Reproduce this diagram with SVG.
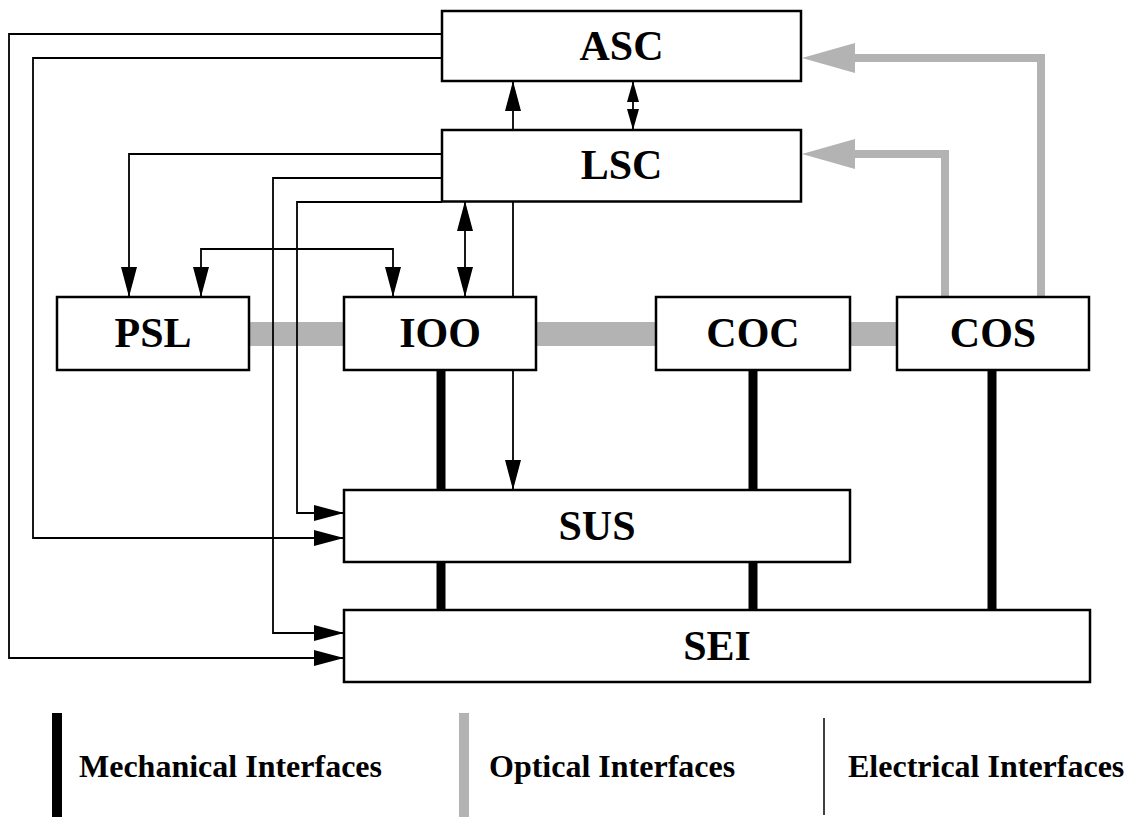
<svg xmlns="http://www.w3.org/2000/svg" width="1128" height="817" viewBox="0 0 1128 817">
  <style>
    .box { fill: #ffffff; stroke: #000000; stroke-width: 2.5; }
    .lbl { font-family: "Liberation Serif", "Times New Roman", serif; font-weight: bold; font-size: 42px; text-anchor: middle; fill: #000000; }
    .leg { font-family: "Liberation Serif", "Times New Roman", serif; font-weight: bold; font-size: 32px; fill: #000000; }
    .elec { fill: none; stroke: #000000; stroke-width: 1.8; }
    .opt { fill: none; stroke: #b3b3b3; stroke-width: 8; }
    .mech { fill: none; stroke: #000000; stroke-width: 9; }
  </style>
  <defs>
    <marker id="ah" markerUnits="userSpaceOnUse" markerWidth="30" markerHeight="16" refX="30" refY="8" orient="auto-start-reverse">
      <path d="M0,0 L30,8 L0,16 z" fill="#000000"/>
    </marker>
    <marker id="ahs" markerUnits="userSpaceOnUse" markerWidth="21" markerHeight="12" refX="21" refY="6" orient="auto-start-reverse">
      <path d="M0,0 L21,6 L0,12 z" fill="#000000"/>
    </marker>
    <marker id="ahg" markerUnits="userSpaceOnUse" markerWidth="53" markerHeight="30" refX="0" refY="15" orient="auto">
      <path d="M0,0 L53,15 L0,30 z" fill="#b3b3b3"/>
    </marker>
  </defs>

  <g id="connectors">
    <!-- optical bar -->
    <line class="opt" x1="249" y1="334" x2="897" y2="334" style="stroke-width:24"/>
    <!-- optical COS -> ASC, COS -> LSC -->
    <polyline class="opt" points="1041,297 1041,58 855,58" marker-end="url(#ahg)"/>
    <polyline class="opt" points="945,297 945,154 855,154" marker-end="url(#ahg)"/>
    <!-- mechanical -->
    <line class="mech" x1="441" y1="370" x2="441" y2="490"/>
    <line class="mech" x1="441" y1="562" x2="441" y2="610"/>
    <line class="mech" x1="753" y1="370" x2="753" y2="490"/>
    <line class="mech" x1="753" y1="562" x2="753" y2="610"/>
    <line class="mech" x1="992" y1="370" x2="992" y2="610"/>
    <!-- electrical -->
    <polyline class="elec" points="442,34 9,34 9,658 344,658" marker-end="url(#ah)"/>
    <polyline class="elec" points="442,58 33,58 33,538 344,538" marker-end="url(#ah)"/>
    <polyline class="elec" points="442,154 129,154 129,297" marker-end="url(#ah)"/>
    <polyline class="elec" points="442,178 273,178 273,633 344,633" marker-end="url(#ah)"/>
    <polyline class="elec" points="442,202 297,202 297,513 344,513" marker-end="url(#ah)"/>
    <polyline class="elec" points="201,297 201,249 393,249 393,297" marker-start="url(#ah)" marker-end="url(#ah)"/>
    <line class="elec" x1="465" y1="201" x2="465" y2="297" marker-start="url(#ah)" marker-end="url(#ah)"/>
    <line class="elec" x1="513" y1="297" x2="513" y2="81" marker-end="url(#ah)"/>
    <line class="elec" x1="513" y1="370" x2="513" y2="490" marker-end="url(#ah)"/>
    <line class="elec" x1="633" y1="81" x2="633" y2="130" marker-start="url(#ahs)" marker-end="url(#ahs)"/>
  </g>

  <g id="ASC"><rect class="box" x="442" y="11" width="359" height="70"/><text class="lbl" x="621.5" y="59.5">ASC</text></g>
  <g id="LSC"><rect class="box" x="442" y="130" width="359" height="71.5"/><text class="lbl" x="621.5" y="179">LSC</text></g>
  <g id="PSL"><rect class="box" x="57" y="297" width="192" height="73"/><text class="lbl" x="153" y="347">PSL</text></g>
  <g id="IOO"><rect class="box" x="344" y="297" width="192" height="73"/><text class="lbl" x="440" y="347">IOO</text></g>
  <g id="COC"><rect class="box" x="656" y="297" width="194" height="73"/><text class="lbl" x="753" y="347">COC</text></g>
  <g id="COS"><rect class="box" x="897" y="297" width="192" height="73"/><text class="lbl" x="993" y="347">COS</text></g>
  <g id="SUS"><rect class="box" x="344" y="490" width="506" height="72"/><text class="lbl" x="597" y="540">SUS</text></g>
  <g id="SEI"><rect class="box" x="344" y="610" width="746" height="72"/><text class="lbl" x="717" y="660">SEI</text></g>

  <g id="legend">
    <rect x="52" y="713" width="10" height="104" fill="#000000"/>
    <text class="leg" x="79" y="777">Mechanical Interfaces</text>
    <rect x="459" y="713" width="10" height="104" fill="#b3b3b3"/>
    <text class="leg" x="489" y="777">Optical Interfaces</text>
    <line x1="824" y1="718" x2="824" y2="815" stroke="#000000" stroke-width="1.5"/>
    <text class="leg" x="848" y="777">Electrical Interfaces</text>
  </g>
</svg>
